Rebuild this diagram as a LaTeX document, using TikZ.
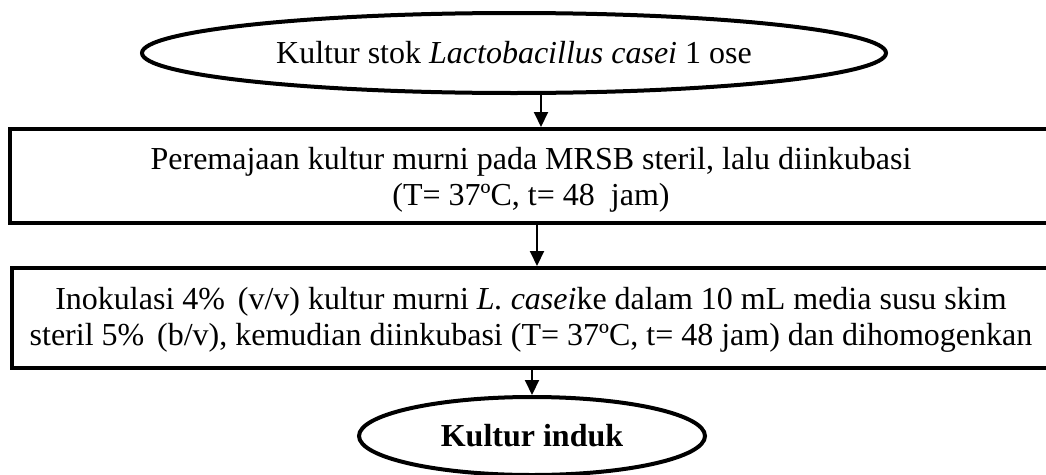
\documentclass[tikz,border=0pt]{standalone}
\usepackage{fontspec}
\setmainfont{Liberation Serif}
\usetikzlibrary{shapes.geometric,arrows.meta}
\begin{document}
\begin{tikzpicture}[x=1pt,y=-1pt,
  txt/.style={font=\fontsize{32}{36}\selectfont, align=center, inner sep=0pt},
  oval/.style={ellipse, draw, line width=4pt, inner sep=0pt},
  stepbox/.style={rectangle, draw, line width=4pt, inner sep=0pt},
  flow/.style={line width=2pt, -{Triangle[length=15pt,width=14pt]}}]
  \useasboundingbox (0,0) rectangle (1046,474);

  % start and end ovals
  \node[oval, minimum width=744pt, minimum height=80pt] (start) at (514,53) {};
  \node[txt] at (start.center) {Kultur stok \textit{Lactobacillus casei} 1 ose};
  \node[oval, minimum width=346pt, minimum height=78pt] (finish) at (532,436) {};
  \node[txt] at (finish.center) {\textbf{Kultur induk}};

  % process boxes
  \node[stepbox, minimum width=1040pt, minimum height=94pt] (rejuv) at (530,176) {};
  \node[txt] at (531,180) {Peremajaan kultur murni pada MRSB steril, lalu diinkubasi\\(T= 37ºC, t= 48\ \ jam)};
  \node[stepbox, minimum width=1038pt, minimum height=100pt] (inoc) at (531,318) {};
  \node[txt] at (531,320) {Inokulasi 4\%\hspace{0.15em} (v/v) kultur murni \textit{L. casei}ke dalam 10 mL media susu skim\\steril 5\%\hspace{0.15em} (b/v), kemudian diinkubasi (T= 37ºC, t= 48 jam) dan dihomogenkan};

  % connectors
  \coordinate (c1) at (541,0);
  \coordinate (c2) at (537,0);
  \coordinate (c3) at (532,0);
  \draw[flow] (start.south -| c1) -- (rejuv.north -| c1);
  \draw[flow] (rejuv.south -| c2) -- (inoc.north -| c2);
  \draw[flow] (inoc.south -| c3) -- (finish.north -| c3);
\end{tikzpicture}
\end{document}
